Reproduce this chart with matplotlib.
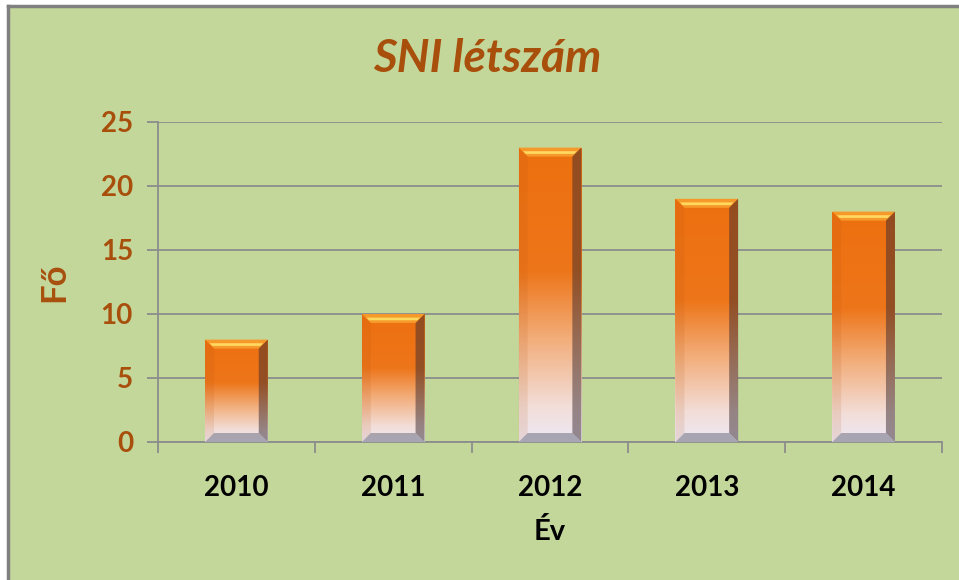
import numpy as np
import matplotlib
matplotlib.use("Agg")
import matplotlib.pyplot as plt
from matplotlib.colors import LinearSegmentedColormap
from matplotlib.patches import Polygon
from matplotlib.lines import Line2D

# data
years = ['2010', '2011', '2012', '2013', '2014']
counts = [8, 10, 23, 19, 18]
yticks = [0, 5, 10, 15, 20, 25]

BG = '#c4d79b'
BROWN = '#a84f0c'
GRID = '#8c8c8c'
FONT = ['Lato', 'DejaVu Sans']

plt.rcParams['font.family'] = FONT

fig = plt.figure(figsize=(9.59, 5.80), dpi=100, facecolor='white')
# green chart area with grey frame on top/left
bg_ax = fig.add_axes([8/959, 0, 1 - 8/959, 1 - 6/580])
bg_ax.set_facecolor(BG)
bg_ax.set_xticks([])
bg_ax.set_yticks([])
for s in bg_ax.spines.values():
    s.set_visible(False)
fig.add_artist(Line2D([8/959, 8/959], [0, 1 - 6/580], color='#808080', lw=2.5))
fig.add_artist(Line2D([8/959, 1], [1 - 6/580, 1 - 6/580], color='#808080', lw=2.5))

ax = fig.add_axes([158/959, 1 - 442/580, (942 - 158)/959, 320/580])
ax.patch.set_alpha(0)
x = np.arange(len(years))
width = 0.4
bars = ax.bar(x, counts, width=width, color='none', edgecolor='none', zorder=3)

ax.set_xlim(-0.5, len(years) - 0.5)
ax.set_ylim(0, 25)

# gradient: orange on top fading to pale lavender at the bottom
cmap = LinearSegmentedColormap.from_list('bar', [
    (0.0, (0.93, 0.91, 0.96)),
    (0.12, (0.95, 0.87, 0.85)),
    (0.35, (0.95, 0.68, 0.48)),
    (0.58, (0.93, 0.46, 0.10)),
    (1.0, (0.93, 0.44, 0.06)),
])
grad = np.linspace(0, 1, 256).reshape(-1, 1)

px_x = len(years) / 784.0
px_y = 25 / 320.0
bx = 9 * px_x
by = 9 * px_y

for b in bars:
    x0, w, h = b.get_x(), b.get_width(), b.get_height()
    x1 = x0 + w
    im = ax.imshow(grad, extent=[x0, x1, 0, h], origin='lower', cmap=cmap,
                   aspect='auto', zorder=3, interpolation='bicubic')
    im.set_clip_path(b)
    # bevels
    ax.add_patch(Polygon([[x0, h], [x1, h], [x1 - bx, h - by], [x0 + bx, h - by]],
                         closed=True, facecolor='#f59a2a', edgecolor='none', zorder=4))
    ax.add_patch(Polygon([[x0 + bx * 0.5, h - by * 0.4], [x1 - bx * 0.5, h - by * 0.4],
                          [x1 - bx * 0.8, h - by * 0.7], [x0 + bx * 0.8, h - by * 0.7]],
                         closed=True, facecolor='#ffd860', edgecolor='none', zorder=4))
    ax.add_patch(Polygon([[x1, h], [x1, 0], [x1 - bx, by], [x1 - bx, h - by]],
                         closed=True, facecolor='#3a2a30', edgecolor='none', alpha=0.5, zorder=4))
    ax.add_patch(Polygon([[x0, h], [x0, 0], [x0 + bx, by], [x0 + bx, h - by]],
                         closed=True, facecolor='#b05010', edgecolor='none', alpha=0.12, zorder=4))
    ax.add_patch(Polygon([[x0, 0], [x1, 0], [x1 - bx, by], [x0 + bx, by]],
                         closed=True, facecolor='#707080', edgecolor='none', alpha=0.55, zorder=4))

ax.set_yticks(yticks)
ax.yaxis.grid(True, color=GRID, lw=1.3, zorder=1)
ax.set_axisbelow(True)
ax.set_xticks(x)
ax.set_xticklabels(years, fontsize=20, fontweight='bold', color='black')
ax.set_xticks(np.arange(len(years) + 1) - 0.5, minor=True)
ax.tick_params(axis='x', which='major', length=0, pad=24)
ax.tick_params(axis='x', which='minor', length=8, color=GRID, width=1.3, direction='out')
ax.tick_params(axis='y', length=8, color=GRID, width=1.3, pad=10, labelsize=20,
               labelcolor=BROWN)
for lab in ax.get_yticklabels():
    lab.set_fontweight('bold')

for side in ['top', 'right']:
    ax.spines[side].set_visible(False)
for side in ['left', 'bottom']:
    ax.spines[side].set_color(GRID)
    ax.spines[side].set_linewidth(1.3)

ax.set_xlabel('Év', fontsize=21, fontweight='bold', color='black', labelpad=12)
ax.set_ylabel('Fő', fontsize=25, fontweight='bold', color=BROWN, labelpad=22)

fig.text(0.5 * (372 + 603) / 959, 1 - 59/580, 'SNI létszám', fontsize=33,
         fontweight='bold', fontstyle='italic', color=BROWN, ha='center', va='center')

fig.savefig('out.png', dpi=100, facecolor='white')
